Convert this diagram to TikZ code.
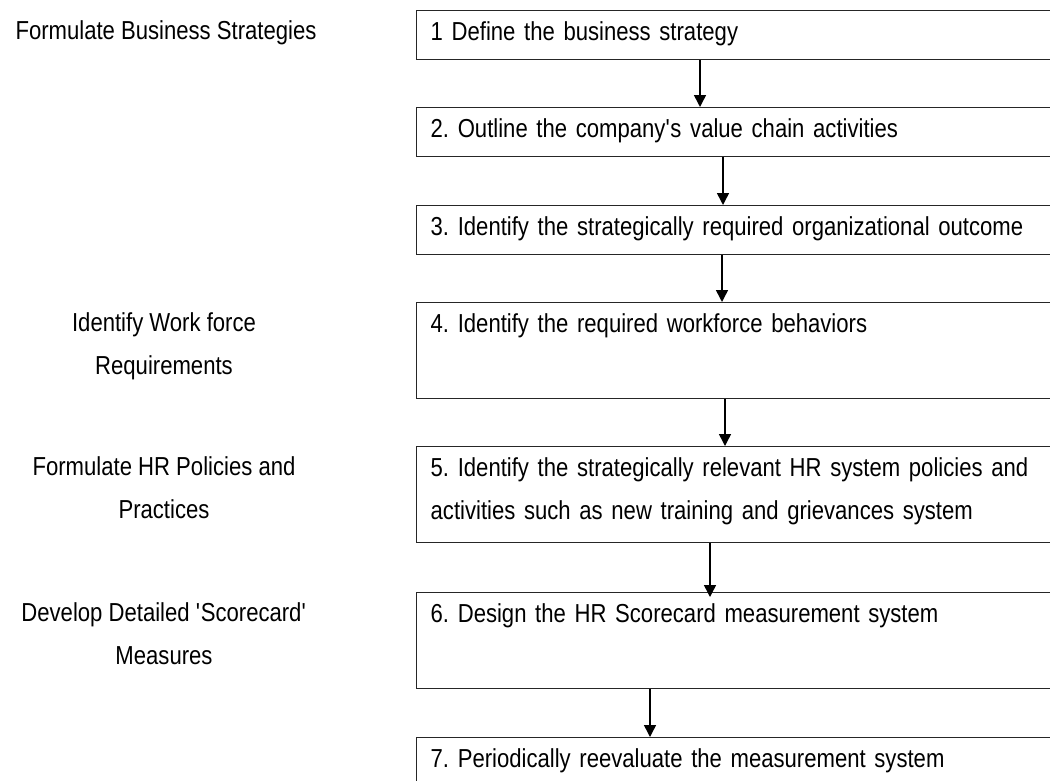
\documentclass[tikz,border=0pt]{standalone}
\usepackage{fontspec}
\setmainfont{Liberation Sans}[FakeStretch=0.85]
\usepackage{tikz}
\usetikzlibrary{arrows.meta}

\begin{document}
\frenchspacing
\begin{tikzpicture}[
		x=1pt, y=-1pt,
		font=\fontsize{26}{43}\selectfont,
		stepbox/.style  = {draw=black!85, line width=1.4pt, anchor=north west,
			inner xsep=14pt, inner ysep=0pt, text width=632pt, align=left,
			text height=29.5pt, text depth=19.5pt},
		tallbox/.style  = {stepbox, text depth=66.5pt},
		sidelabel/.style = {anchor=base, align=center},
		flow/.style     = {line width=1.5pt, -{Triangle[length=12pt, width=12pt]}}
	]
	\useasboundingbox (0,0) rectangle (1050,780);
	\clip (0,0) rectangle (1050,780);

	% the seven steps
	\node [stepbox] (b1) at (416,10)  {1 Define the business strategy};
	\node [stepbox] (b2) at (416,107) {2. Outline the company\textquotesingle s value chain activities};
	\node [stepbox] (b3) at (416,205) {3. Identify the strategically required organizational outcome};
	\node [tallbox] (b4) at (416,302) {4. Identify the required workforce behaviors};
	\node [tallbox] (b5) at (416,446) {\parbox[t]{608pt}{5. Identify the strategically relevant HR system policies and activities such as new training and grievances system}};
	\node [tallbox] (b6) at (416,592) {6. Design the HR Scorecard measurement system};
	\node [stepbox, text depth=40pt] (b7) at (416,737) {7. Periodically reevaluate the measurement system};

	% labels on the left (base = last line)
	\node [sidelabel, anchor=base west] (l1) at (12,39.5) {Formulate Business Strategies};
	\node [sidelabel] (l4) at (164,374.5) {Identify Work force\\Requirements};
	\node [sidelabel] (l5) at (164,518.5) {Formulate HR Policies and\\Practices};
	\node [sidelabel] (l6) at (164,664.5) {Develop Detailed \textquotesingle Scorecard\textquotesingle\\Measures};

	% arrows
	\draw [flow] (b1.south -| 700,0) -- (b2.north -| 700,0);
	\draw [flow] (b2.south -| 723,0) -- (b3.north -| 723,0);
	\draw [flow] (b3.south -| 722,0) -- (b4.north -| 722,0);
	\draw [flow] (b4.south -| 725,0) -- (b5.north -| 725,0);
	\draw [flow, shorten >=-5pt] (b5.south -| 710,0) -- (b6.north -| 710,0);
	\draw [flow] (b6.south -| 650,0) -- (b7.north -| 650,0);
\end{tikzpicture}
\end{document}
